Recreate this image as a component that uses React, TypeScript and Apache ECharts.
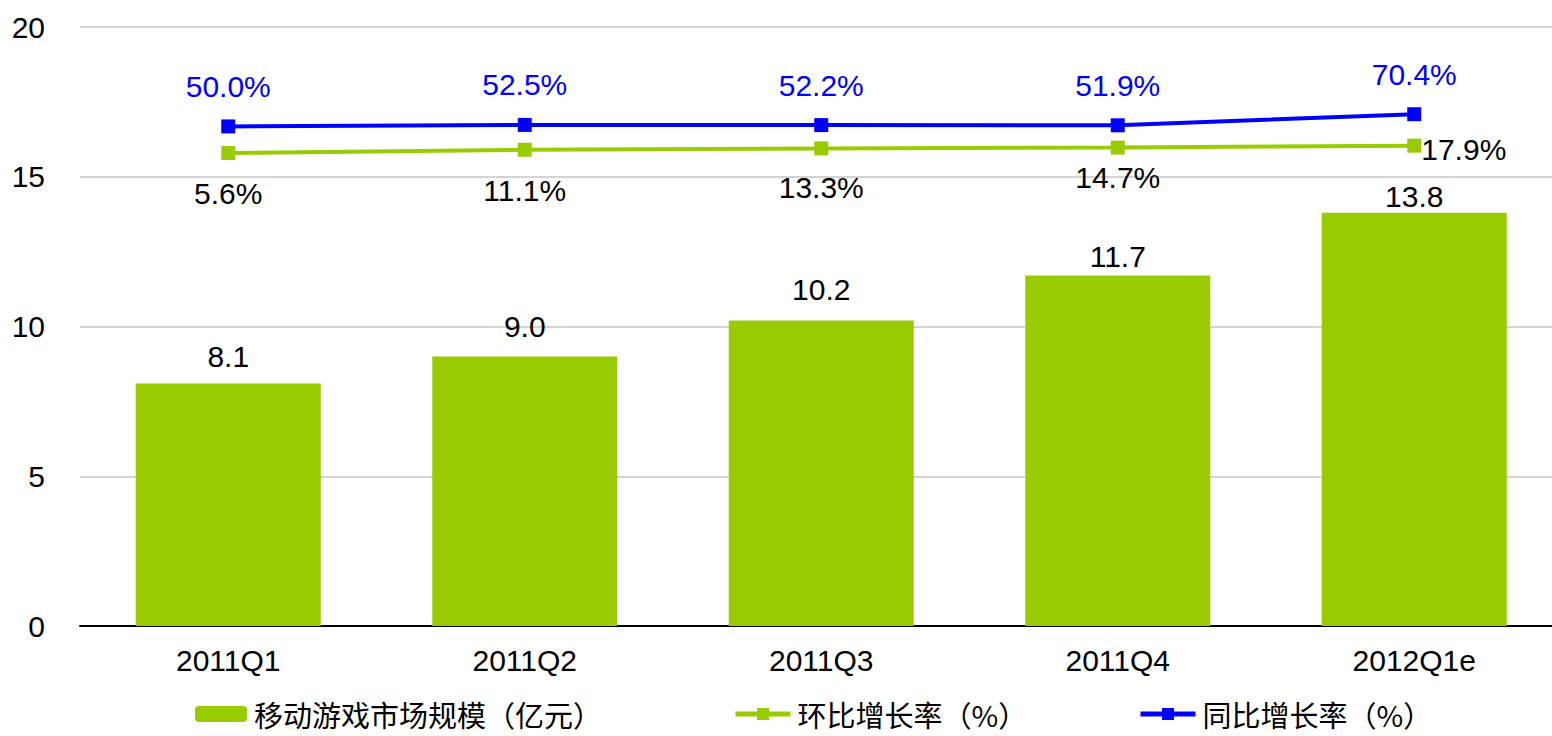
import React, { useEffect, useRef } from "react";
import * as echarts from "echarts";

const categories = ["2011Q1", "2011Q2", "2011Q3", "2011Q4", "2012Q1e"];
const marketSize = [8.1, 9.0, 10.2, 11.7, 13.8];
const qoqGrowth = [5.6, 11.1, 13.3, 14.7, 17.9];
const yoyGrowth = [50.0, 52.5, 52.2, 51.9, 70.4];
const seriesNames = ["移动游戏市场规模（亿元）", "环比增长率（%）", "同比增长率（%）"];

// label placement (style only)
const barLabelDist = [12, 15, 16, 4, 1];
const qoqLabelDist = [18, 19, 17, 8, 0];

const NUM_FONT = "'Liberation Sans', Arial, sans-serif";
const CJK_FONT = "'Noto Sans CJK SC', sans-serif";
const GREEN = "#99CC00";
const BLUE = "#0000FF";

export default function App() {
  const ref = useRef<HTMLDivElement>(null);
  useEffect(() => {
    if (!ref.current) return;
    const chart = echarts.init(ref.current, null, { renderer: "svg" });
    const fmtPct = (p: any) => Number(p.value).toFixed(1) + "%";
    const legendBase = {
      top: 699,
      padding: 0,
      orient: "horizontal",
      itemGap: 0,
      textStyle: {
        fontFamily: CJK_FONT,
        fontSize: 29,
        lineHeight: 30,
        color: "#000",
        padding: [0, 0, 0, 2],
      },
    };
    chart.setOption({
      animation: false,
      backgroundColor: "#fff",
      grid: {
        left: 80,
        top: 27,
        width: 1482.5,
        height: 599,
        containLabel: false,
        outerBoundsMode: "none",
      },
      legend: [
        { ...legendBase, left: 195, data: [seriesNames[0]], itemWidth: 52, itemHeight: 16 },
        {
          ...legendBase,
          left: 733,
          data: [seriesNames[1]],
          itemWidth: 55,
          itemHeight: 15,
          lineStyle: { width: 5 },
        },
        {
          ...legendBase,
          left: 1138,
          data: [seriesNames[2]],
          itemWidth: 55,
          itemHeight: 15,
          lineStyle: { width: 5 },
        },
      ],
      xAxis: {
        type: "category",
        data: categories,
        axisLine: { show: true, lineStyle: { color: "#000", width: 2 } },
        axisTick: { show: false },
        axisLabel: { fontFamily: NUM_FONT, fontSize: 30, color: "#000", margin: 19 },
      },
      yAxis: [
        {
          type: "value",
          min: 0,
          max: 20,
          interval: 5,
          axisLine: { show: false },
          axisTick: { show: false },
          splitLine: { lineStyle: { color: "#C4C4C4", width: 1.5 } },
          axisLabel: { fontFamily: NUM_FONT, fontSize: 30, color: "#000", margin: 35 },
        },
        {
          type: "value",
          min: -784,
          max: 216,
          show: false,
          splitLine: { show: false },
        },
      ],
      series: [
        {
          name: seriesNames[0],
          type: "bar",
          barWidth: 185,
          itemStyle: { color: GREEN },
          data: marketSize.map((v, i) => ({
            value: v,
            label: { distance: barLabelDist[i] },
          })),
          label: {
            show: true,
            position: "top",
            fontFamily: NUM_FONT,
            fontSize: 30,
            color: "#000",
            formatter: (p: any) => Number(p.value).toFixed(1),
          },
          z: 2,
        },
        {
          name: seriesNames[1],
          type: "line",
          yAxisIndex: 1,
          symbol: "rect",
          symbolSize: 14,
          lineStyle: { color: GREEN, width: 4 },
          itemStyle: { color: GREEN },
          data: qoqGrowth.map((v, i) => ({
            value: v,
            label:
              i === qoqGrowth.length - 1
                ? { position: "right", distance: 0, offset: [0, 4] }
                : { position: "bottom", distance: qoqLabelDist[i] },
          })),
          label: {
            show: true,
            fontFamily: NUM_FONT,
            fontSize: 30,
            color: "#000",
            formatter: fmtPct,
          },
          z: 3,
        },
        {
          name: seriesNames[2],
          type: "line",
          yAxisIndex: 1,
          symbol: "rect",
          symbolSize: 14,
          lineStyle: { color: BLUE, width: 4 },
          itemStyle: { color: BLUE },
          data: yoyGrowth,
          label: {
            show: true,
            position: "top",
            distance: 18,
            fontFamily: NUM_FONT,
            fontSize: 30,
            color: BLUE,
            formatter: fmtPct,
          },
          z: 4,
        },
      ],
    });
    return () => chart.dispose();
  }, []);
  return (
    <div
      ref={ref}
      style={{ position: "fixed", left: 0, top: 0, width: 1552, height: 736, background: "#fff" }}
    />
  );
}
